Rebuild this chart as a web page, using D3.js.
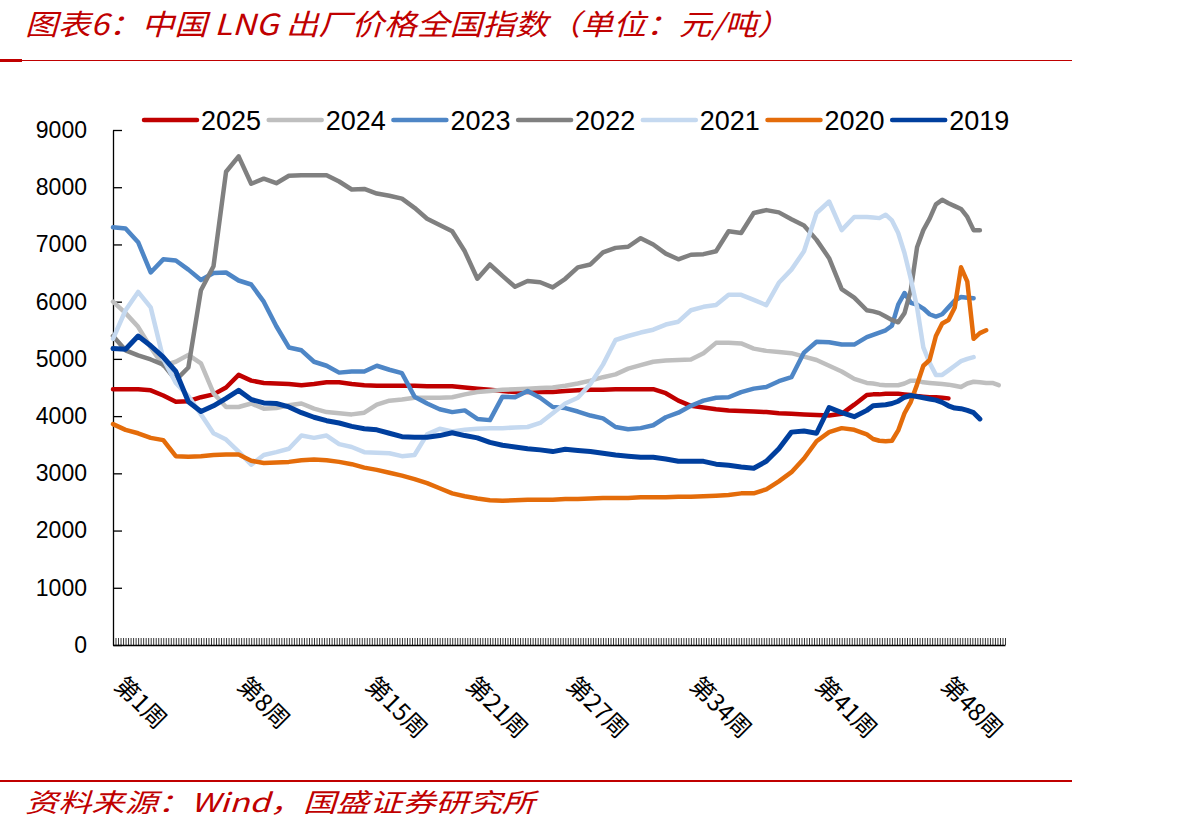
<!DOCTYPE html>
<html><head><meta charset="utf-8">
<script src="https://cdn.jsdelivr.net/npm/d3@7"></script>
<style>body{margin:0;background:#fff} svg{display:block}</style>
</head><body>
<svg id="chart" width="1192" height="833"></svg>
<script>
// ---------- data ----------
const years = ["2025","2024","2023","2022","2021","2020","2019"];
const seriesColors = ["#C00000","#BFBFBF","#4E86C6","#808080","#C5D9F0","#E46C0A","#003F9E"];
const xLabels = ["第1周","第8周","第15周","第21周","第27周","第34周","第41周","第48周"];
const xLabelPos = [0,49,100,140,180,229,279,329];   // category (day) index of each label
const yTicks = [0,1000,2000,3000,4000,5000,6000,7000,8000,9000];
const categoryCount = 355;
// sample positions (category index) shared by all series
const xIndex = d3.range(0,300,5).concat(d3.range(300,355.01,2.5));

const s2025 = [4470,4470,4470,4450,4360,4250,4260,4330,4380,4500,
4720,4620,4580,4570,4560,4540,4560,4590,4590,4560,
4540,4530,4530,4530,4530,4520,4520,4520,4500,4480,
4460,4440,4420,4420,4420,4420,4440,4450,4460,4460,
4470,4470,4470,4470,4400,4270,4180,4150,4120,4100,
4090,4080,4070,4050,4040,4030,4020,4010,4040,4200,
4370,4380,4380,4390,4390,4390,4380,4370,4350,4340,4330,4330,4320,4310,null,null,null,null,null,null,null,null,null];
const s2024 = [6000,5800,5560,5200,4880,4950,5070,4920,4400,4160,
4160,4220,4130,4140,4190,4220,4130,4070,4050,4030,
4060,4200,4270,4290,4320,4320,4320,4330,4380,4420,
4440,4460,4470,4480,4490,4500,4530,4570,4620,4680,
4730,4830,4890,4950,4970,4980,4990,5100,5280,5280,
5270,5180,5140,5120,5100,5040,4980,4880,4780,4650,
4580,4570,4550,4540,4540,4540,4570,4620,4620,4590,4580,4570,4560,4550,4530,4510,4570,4600,4590,4580,4580,4540,null];
const s2023 = [7300,7280,7040,6510,6740,6720,6560,6380,6500,6510,
6370,6300,6000,5570,5200,5150,4950,4880,4760,4780,
4780,4880,4810,4750,4340,4220,4120,4070,4100,3950,
3930,4340,4330,4440,4320,4160,4140,4080,4010,3960,
3810,3770,3790,3840,3980,4060,4180,4270,4320,4330,
4420,4480,4510,4610,4680,5110,5300,5290,5250,5250,
5380,5420,5460,5500,5580,5950,6150,5980,5950,5880,5780,5740,5780,5900,6020,6080,6070,6060,null,null,null,null,null];
const s2022 = [5400,5150,5060,4990,4900,4630,4850,6200,6620,8270,
8540,8060,8150,8070,8200,8210,8210,8210,8100,7960,
7970,7890,7850,7800,7640,7450,7340,7230,6880,6400,
6650,6450,6260,6360,6340,6250,6400,6600,6650,6860,
6940,6960,7110,7000,6840,6740,6820,6830,6880,7230,
7200,7550,7600,7560,7440,7330,7080,6760,6220,6070,
5850,5830,5800,5740,5680,5640,5800,6200,6950,7250,7450,7700,7780,7720,7670,7620,7480,7250,7250,null,null,null,null];
const s2021 = [5350,5850,6170,5900,5000,4580,4350,4030,3700,3590,
3380,3150,3320,3370,3430,3660,3620,3660,3510,3460,
3370,3360,3350,3300,3320,3680,3780,3730,3760,3780,
3790,3790,3800,3810,3880,4050,4220,4320,4560,4900,
5330,5400,5460,5510,5600,5650,5850,5910,5940,6120,
6120,6030,5940,6330,6560,6880,7550,7750,7250,7480,
7480,7470,7460,7520,7420,7200,6850,6400,5900,5200,4930,4720,4720,4800,4880,4960,5000,5030,null,null,null,null,null];
const s2020 = [3860,3760,3700,3620,3580,3300,3290,3300,3320,3330,
3330,3220,3180,3190,3200,3230,3240,3230,3200,3160,
3100,3060,3010,2960,2900,2830,2740,2650,2600,2560,
2530,2520,2530,2540,2540,2540,2550,2550,2560,2570,
2570,2570,2580,2580,2580,2590,2590,2600,2610,2620,
2650,2650,2720,2860,3020,3260,3560,3720,3790,3760,
3680,3600,3570,3560,3570,3750,4050,4250,4550,4880,4980,5400,5620,5680,5900,6600,6350,5350,5450,5500,null,null,null];
const s2019 = [5180,5170,5400,5230,5030,4780,4250,4080,4180,4310,
4450,4290,4230,4220,4160,4060,3980,3920,3880,3820,
3780,3760,3700,3640,3630,3630,3660,3710,3660,3620,
3540,3490,3460,3430,3410,3380,3420,3400,3380,3350,
3320,3300,3280,3280,3250,3210,3210,3210,3160,3140,
3110,3090,3210,3430,3720,3740,3700,4150,4060,3990,
4100,4180,4190,4200,4220,4260,4330,4360,4340,4320,4300,4280,4240,4180,4140,4130,4100,4060,3950,null,null,null,null];
const seriesValues = [s2025,s2024,s2023,s2022,s2021,s2020,s2019];

// ---------- drawing ----------
const svg = d3.select("#chart");
const red = "#C00000";
const cjk = "'Noto Sans CJK SC','Noto Sans',sans-serif";
const latin = "'Liberation Sans',Arial,sans-serif";

// title
svg.append("text").attr("x",25).attr("y",35)
  .attr("font-family",cjk).attr("font-size",29).attr("font-style","italic")
  .attr("fill",red).attr("textLength",765).attr("lengthAdjust","spacingAndGlyphs")
  .text("图表6：中国 LNG 出厂价格全国指数（单位：元/吨）");
svg.append("line").attr("x1",0).attr("x2",1072).attr("y1",60.5).attr("y2",60.5)
  .attr("stroke",red).attr("stroke-width",1);
svg.append("rect").attr("x",0).attr("y",59).attr("width",22).attr("height",3).attr("fill",red);

// source
svg.append("line").attr("x1",0).attr("x2",1072).attr("y1",781).attr("y2",781)
  .attr("stroke",red).attr("stroke-width",2);
svg.append("text").attr("x",25).attr("y",812)
  .attr("font-family",cjk).attr("font-size",26).attr("font-style","italic")
  .attr("fill",red).attr("textLength",510).attr("lengthAdjust","spacingAndGlyphs")
  .text("资料来源：Wind，国盛证券研究所");

// scales
const x = d3.scaleLinear().domain([0,categoryCount]).range([113,1005]);
const y = d3.scaleLinear().domain([0,9000]).range([645,130]);

// axes
const gy = svg.append("g").attr("transform","translate(113,0)")
  .call(d3.axisLeft(y).tickValues(yTicks).tickSizeInner(-9).tickSizeOuter(0).tickPadding(26).tickFormat(d3.format("d")));
gy.select(".domain").attr("stroke","#000").attr("stroke-width",1.3);
gy.selectAll(".tick line").attr("stroke","#000").attr("stroke-width",1.3);
gy.selectAll(".tick text").attr("font-family",latin).attr("font-size",23).attr("fill","#000");

const gx = svg.append("g").attr("transform","translate(0,645)")
  .call(d3.axisBottom(x).tickValues(d3.range(0,categoryCount+1)).tickSizeInner(-7).tickSizeOuter(0).tickFormat(""));
gx.select(".domain").attr("stroke","#000").attr("stroke-width",1.3);
gx.selectAll(".tick line").attr("stroke","#000").attr("stroke-width",0.8);

svg.append("g").selectAll("text").data(xLabels).join("text")
  .attr("transform",(d,i)=>`translate(${x(xLabelPos[i])},687) rotate(45)`)
  .attr("font-family",cjk).attr("font-size",24).attr("fill","#000")
  .text(d=>d);

// lines
const line = d3.line()
  .defined(d=>d.v!=null)
  .x(d=>x(d.i)).y(d=>y(d.v));
const lines = svg.append("g");
seriesValues.forEach((vals,k)=>{
  const pts = vals.map((v,j)=>({i:xIndex[j],v:v}));
  lines.append("path").datum(pts)
    .attr("d",line).attr("fill","none")
    .attr("stroke",seriesColors[k])
    .attr("stroke-width", years[k]==="2019" ? 5 : 4.5)
    .attr("stroke-linejoin","round").attr("stroke-linecap","round");
});

// legend
const leg = svg.append("g");
years.forEach((yr,k)=>{
  const lx = 144 + k*124.7;
  leg.append("line").attr("x1",lx).attr("x2",lx+53).attr("y1",120).attr("y2",120)
    .attr("stroke",seriesColors[k]).attr("stroke-width",4.5).attr("stroke-linecap","round");
  leg.append("text").attr("x",lx+57).attr("y",130)
    .attr("font-family",latin).attr("font-size",27).attr("fill","#000").text(yr);
});
</script>
</body></html>
